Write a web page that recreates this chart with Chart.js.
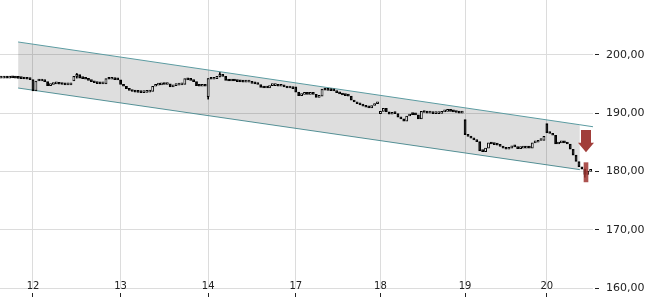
<!DOCTYPE html>
<html>
<head>
<meta charset="utf-8">
<script src="https://cdn.jsdelivr.net/npm/chart.js@4.4.1/dist/chart.umd.min.js"></script>
<style>
  html, body { margin: 0; padding: 0; background: #fff; }
  #chart { display: block; }
</style>
</head>
<body>
<canvas id="chart" width="650" height="300"></canvas>
<script>
// day labels and the bar index where each day starts
const dayLabels = ["12", "13", "14", "17", "18", "19", "20"];
const dayStarts = [0, 30, 60, 90, 119, 148, 176];
const firstBar = -11;

// closing prices per bar, one array per trading day
const close11 = [196.0, 196.05, 196.0, 196.1, 196.05, 196.0, 195.95, 195.9, 195.85, 195.8, 195.75];
const close12 = [193.8, 195.5, 195.5, 195.55, 195.4, 194.7, 194.9, 195.0, 195.1, 194.95, 194.9, 194.85, 194.85, 194.9, 196.3,
                 196.6, 196.0, 195.9, 195.8, 195.6, 195.4, 195.2, 195.05, 195.0, 195.0, 195.9, 195.8, 195.85, 195.75, 195.7];
const close13 = [194.9, 194.6, 194.2, 193.9, 193.7, 193.6, 193.55, 193.5, 193.55, 193.6, 193.7, 194.6, 194.8, 194.85, 195.0,
                 194.9, 195.0, 194.5, 194.7, 194.8, 194.85, 194.9, 195.9, 195.7, 195.6, 195.4, 194.7, 194.6, 194.7, 194.6];
const close14 = [195.9, 195.8, 195.9, 196.3, 196.6, 196.3, 195.6, 195.5, 195.6, 195.5, 195.4, 195.35, 195.3, 195.3, 195.3,
                 195.1, 195.0, 194.9, 194.4, 194.3, 194.3, 194.7, 194.7, 194.8, 194.6, 194.6, 194.5, 194.3, 194.4, 194.2];
const close17 = [193.6, 193.0, 193.2, 193.25, 193.2, 193.3, 193.2, 192.7, 192.9, 194.1, 193.95, 193.9, 193.85, 193.8, 193.5,
                 193.3, 193.1, 193.0, 192.9, 192.2, 191.9, 191.6, 191.4, 191.2, 191.0, 190.9, 191.3, 191.6, 191.9];
const close18 = [190.3, 190.8, 190.2, 189.8, 190.1, 189.9, 189.3, 189.0, 188.6, 189.5, 189.8, 189.75, 189.7, 189.0, 190.3,
                 190.1, 190.0, 190.0, 189.9, 189.9, 189.95, 190.2, 190.3, 190.4, 190.3, 190.2, 190.1, 190.0, 190.0];
const close19 = [186.3, 186.0, 185.7, 185.4, 185.1, 183.5, 183.4, 184.0, 184.9, 184.7, 184.6, 184.5, 184.3, 184.0, 183.8,
                 184.0, 184.4, 184.2, 183.9, 184.0, 184.0, 184.1, 184.0, 184.9, 185.0, 185.3, 185.3, 186.0];
const close20 = [186.6, 186.5, 186.2, 184.7, 184.9, 185.0, 184.9, 184.7, 183.8, 182.8, 181.7, 180.8, 180.4, 179.5, 180.0, 180.1];

// bars whose open is not the previous close: [bar, open]
const openGaps = [[14, 195.5], [60, 192.8], [90, 194.5], [119, 189.9], [148, 188.9], [176, 188.2]];
// visible wicks: [bar, low, high]
const wicks = [[15, 196.0, 196.8], [60, 192.4, 195.9], [64, 196.2, 196.95], [189, 179.0, 180.4]];

// trend channel
const channelX = [-5.1, 187.3];
const channelTop = [202.2, 188.0];
const channelBottom = [194.3, 180.3];
const channelTopExtX = [187.3, 192.6];
const channelTopExt = [188.0, 187.6];

// signal marks at the last bars
const markerX = 189.4;
const markerRange = [178.2, 181.5];
const arrowX = 189.4;
const arrowPrices = [187.1, 184.9, 183.3];

const yTicks = [160, 170, 180, 190, 200];

const teal = "#5b9ba1";

const closes = [].concat(close11, close12, close13, close14, close17, close18, close19, close20);
const bodies = [];
const bodyColors = [];
closes.forEach(function (c, k) {
  const i = firstBar + k;
  const gap = openGaps.find(function (g) { return g[0] === i; });
  const o = gap ? gap[1] : (k > 0 ? closes[k - 1] : c);
  bodies.push({ x: i, y: [o, c] });
  bodyColors.push(c >= o ? "#ffffff" : "#000000");
});

const arrowPlugin = {
  id: "arrow",
  afterDatasetsDraw(chart) {
    const ctx = chart.ctx;
    const x = chart.scales.x, y = chart.scales.y;
    const cx = x.getPixelForValue(arrowX);
    const yTop = y.getPixelForValue(arrowPrices[0]);
    const yNeck = y.getPixelForValue(arrowPrices[1]);
    const yTip = y.getPixelForValue(arrowPrices[2]);
    ctx.save();
    ctx.fillStyle = "#a13e3a";
    ctx.beginPath();
    ctx.moveTo(cx - 5, yTop);
    ctx.lineTo(cx + 5, yTop);
    ctx.lineTo(cx + 5, yNeck);
    ctx.lineTo(cx + 8, yNeck);
    ctx.lineTo(cx, yTip);
    ctx.lineTo(cx - 8, yNeck);
    ctx.lineTo(cx - 5, yNeck);
    ctx.closePath();
    ctx.fill();
    ctx.restore();
  }
};

// no extra label padding around the plot, the axes keep fixed sizes
function noPadding(s) {
  s.paddingTop = 0;
  s.paddingBottom = 0;
  s.paddingLeft = 0;
  s.paddingRight = 0;
}

const ctx = document.getElementById("chart").getContext("2d");
new Chart(ctx, {
  type: "line",
  data: {
    datasets: [
      {
        type: "bar",
        data: [{ x: markerX, y: markerRange }],
        backgroundColor: "rgba(158, 52, 48, 0.85)",
        barThickness: 4,
        grouped: false,
        order: 1,
      },
      {
        type: "bar",
        data: bodies,
        backgroundColor: bodyColors,
        borderColor: "#000",
        borderWidth: 1,
        borderSkipped: false,
        barThickness: 2.2,
        minBarLength: 2,
        grouped: false,
        order: 2,
      },
      {
        type: "bar",
        data: wicks.map(function (w) { return { x: w[0], y: [w[1], w[2]] }; }),
        backgroundColor: "#000",
        barThickness: 1,
        grouped: false,
        order: 3,
      },
      {
        data: channelX.map(function (x, j) { return { x: x, y: channelTop[j] }; }),
        borderColor: teal,
        borderWidth: 1,
        pointRadius: 0,
        fill: "+1",
        backgroundColor: "rgba(0, 0, 0, 0.13)",
        order: 10,
      },
      {
        data: channelX.map(function (x, j) { return { x: x, y: channelBottom[j] }; }),
        borderColor: teal,
        borderWidth: 1,
        pointRadius: 0,
        fill: false,
        order: 11,
      },
      {
        data: channelTopExtX.map(function (x, j) { return { x: x, y: channelTopExt[j] }; }),
        borderColor: teal,
        borderWidth: 1,
        pointRadius: 0,
        fill: false,
        order: 12,
      },
    ],
  },
  options: {
    responsive: false,
    animation: false,
    events: [],
    layout: { padding: 0 },
    plugins: {
      legend: { display: false },
      tooltip: { enabled: false },
    },
    scales: {
      x: {
        type: "linear",
        min: -11.3,
        max: 191.8,
        offset: false,
        border: { display: false },
        grid: { color: "#dcdcdc", offset: false, tickLength: 9, tickColor: "#222", tickBorderDash: [0, 5, 4, 20] },
        ticks: {
          autoSkip: false,
          maxRotation: 0,
          mirror: true, // labels sit on the bottom grid line, above the tick marks
          padding: -4,
          color: "#222",
          font: { family: "DejaVu Sans", size: 10 },
          callback: function (v) {
            const k = dayStarts.indexOf(v);
            return k >= 0 ? dayLabels[k] : "";
          },
        },
        afterBuildTicks: function (s) {
          s.ticks = dayStarts.map(function (v) { return { value: v }; });
        },
        afterFit: function (s) { s.height = 12; noPadding(s); },
      },
      y: {
        type: "linear",
        position: "right",
        min: 160,
        max: 209.4,
        border: { display: false },
        grid: { color: "#dcdcdc", tickLength: 7, tickColor: "#222", tickBorderDash: [0, 2, 4, 20] },
        ticks: {
          padding: 6,
          color: "#222",
          font: { family: "DejaVu Sans", size: 11 },
          callback: function (v) { return v.toFixed(2).replace(".", ","); },
        },
        afterBuildTicks: function (s) {
          s.ticks = yTicks.map(function (v) { return { value: v }; });
        },
        afterFit: function (s) { s.width = 57; noPadding(s); },
      },
    },
  },
  plugins: [arrowPlugin],
});
</script>
</body>
</html>
